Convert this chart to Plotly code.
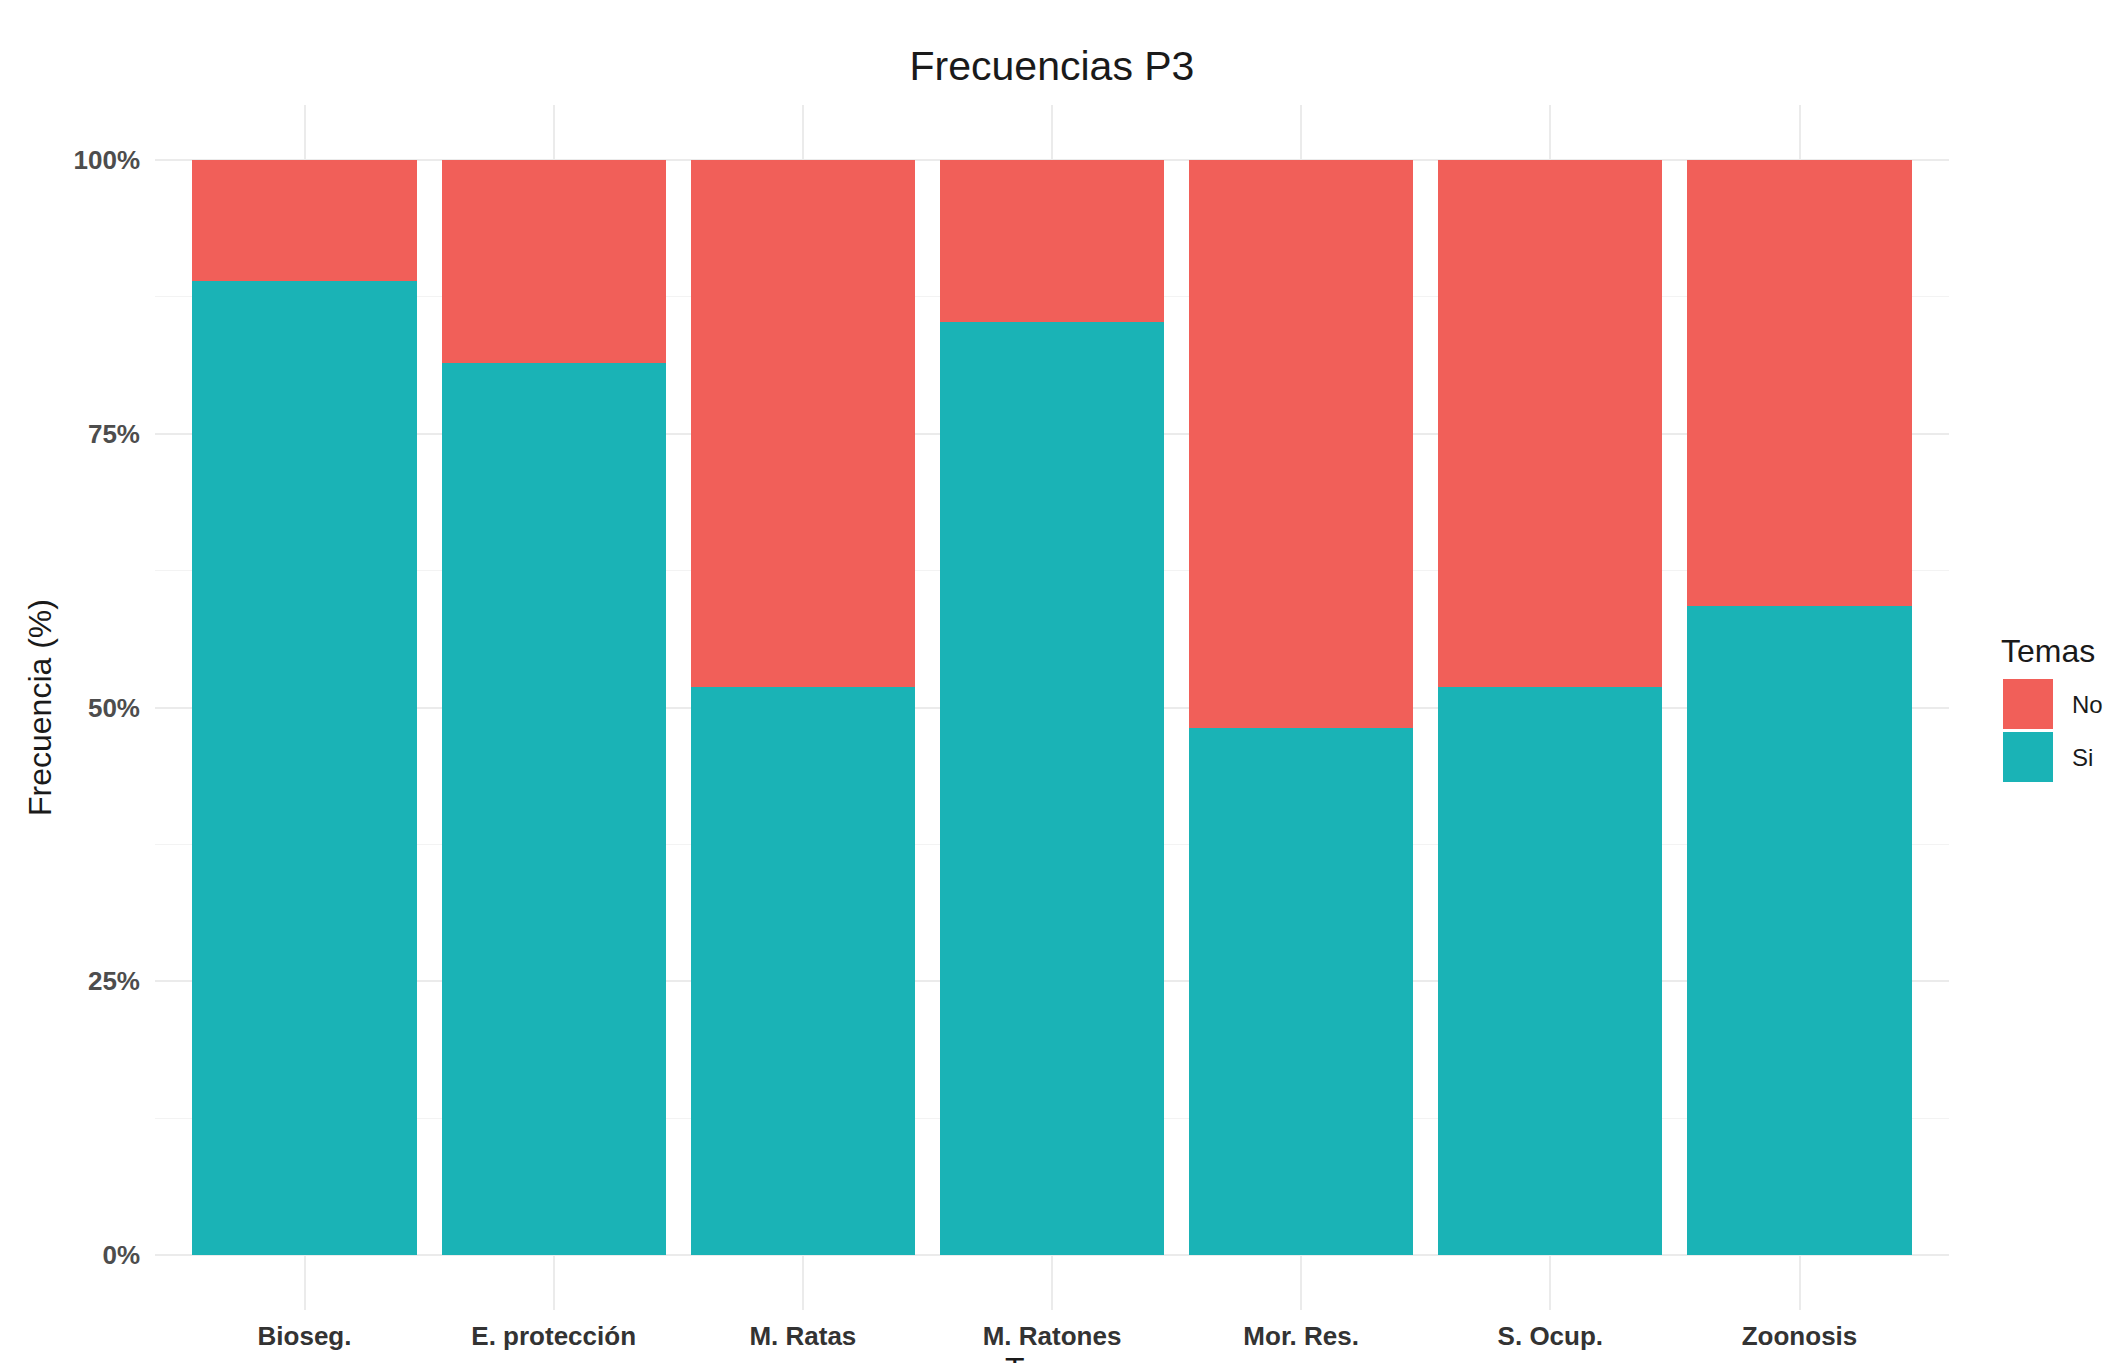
import plotly.graph_objects as go

temas = ["Bioseg.", "E. protección", "M. Ratas", "M. Ratones", "Mor. Res.", "S. Ocup.", "Zoonosis"]
si_counts = [24, 22, 14, 23, 13, 14, 16]
no_counts = [3, 5, 13, 4, 14, 13, 11]
y_ticks = [0, 0.25, 0.5, 0.75, 1.0]
y_labels = ["0%", "25%", "50%", "75%", "100%"]

totals = [s + n for s, n in zip(si_counts, no_counts)]
si_frac = [s / t for s, t in zip(si_counts, totals)]
no_frac = [n / t for n, t in zip(no_counts, totals)]

FONT = "Liberation Sans, Arial, sans-serif"
RED = "#F15F59"
TEAL = "#1AB3B6"
GRID = "#EBEBEB"

W, H = 2115, 1363
L, R, T, B = 147, 174, 97, 61


# pixel -> paper helpers (used only for the hand-built legend / x title)
def px(x):
    return (x - L) / (W - L - R)


def py(y):
    return (H - B - y) / (H - T - B)


fig = go.Figure()
fig.add_trace(go.Bar(x=temas, y=si_frac, name="Si", marker=dict(color=TEAL, line=dict(width=0))))
fig.add_trace(go.Bar(x=temas, y=no_frac, name="No", marker=dict(color=RED, line=dict(width=0))))

fig.update_layout(
    width=W, height=H,
    barmode="stack", bargap=0.1,
    plot_bgcolor="white", paper_bgcolor="white",
    margin=dict(l=L, r=R, t=T, b=B),
    showlegend=False,
    title=dict(text="Frecuencias P3", xref="paper", x=0.5, xanchor="center", y=0.958, yanchor="middle",
               font=dict(family=FONT, size=41, color="#1a1a1a")),
)

# legend "Temas" with big ggplot-style keys
fig.add_annotation(text="Temas", xref="paper", yref="paper", x=px(1991), y=py(643),
                   xanchor="left", yanchor="middle", showarrow=False,
                   font=dict(family=FONT, size=32, color="#1a1a1a"))
for name, color, y0, y1 in [("No", RED, 671, 721), ("Si", TEAL, 724, 774)]:
    fig.add_shape(type="rect", xref="paper", yref="paper", x0=px(1995), x1=px(2045),
                  y0=py(y1), y1=py(y0), fillcolor=color, line=dict(width=0))
    fig.add_annotation(text=name, xref="paper", yref="paper", x=px(2062), y=py((y0 + y1) / 2),
                       xanchor="left", yanchor="middle", showarrow=False,
                       font=dict(family=FONT, size=24, color="#1a1a1a"))

# x axis title sits at the very bottom edge, mostly cut off like the original
fig.add_annotation(text="Temas", xref="paper", yref="paper", x=0.5, y=py(1341),
                   xanchor="center", yanchor="top", showarrow=False,
                   font=dict(family=FONT, size=32, color="#1a1a1a"))

fig.update_xaxes(
    range=[-0.6, 6.6], showgrid=True, gridcolor=GRID, gridwidth=1.5,
    showline=False, zeroline=False, ticks="",
    ticklabelstandoff=8,
    tickfont=dict(family=FONT, size=26, color="#333333", weight="bold"),
    automargin=False,
)
fig.update_yaxes(
    range=[-0.05, 1.05], tickvals=y_ticks, ticktext=y_labels,
    showgrid=True, gridcolor=GRID, gridwidth=1.5, zeroline=False, showline=False, ticks="",
    ticklabelstandoff=14,
    minor=dict(dtick=0.125, tick0=0, showgrid=True, gridcolor="#F3F3F3", gridwidth=1),
    tickfont=dict(family=FONT, size=26, color="#4D4D4D", weight="bold"),
    title=dict(text="Frecuencia (%)", standoff=12, font=dict(family=FONT, size=32, color="#1a1a1a")),
    automargin=False,
)

fig.write_html("out.html")
